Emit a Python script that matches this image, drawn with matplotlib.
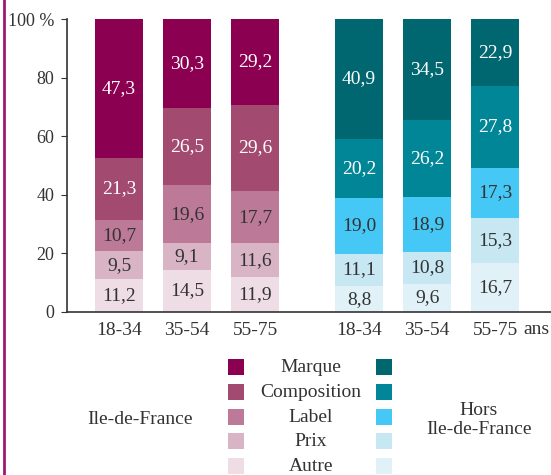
import numpy as np
import matplotlib.pyplot as plt
from matplotlib.patches import Rectangle

plt.rcParams['font.family'] = ['Liberation Serif', 'DejaVu Serif']

# data
ages = ['18-34', '35-54', '55-75']
categories = ['Autre', 'Prix', 'Label', 'Composition', 'Marque']
idf = {
    'Autre':       [11.2, 14.5, 11.9],
    'Prix':        [9.5, 9.1, 11.6],
    'Label':       [10.7, 19.6, 17.7],
    'Composition': [21.3, 26.5, 29.6],
    'Marque':      [47.3, 30.3, 29.2],
}
hors = {
    'Autre':       [8.8, 9.6, 16.7],
    'Prix':        [11.1, 10.8, 15.3],
    'Label':       [19.0, 18.9, 17.3],
    'Composition': [20.2, 26.2, 27.8],
    'Marque':      [40.9, 34.5, 22.9],
}
yticks = [0, 20, 40, 60, 80, 100]
ytick_labels = ['0', '20', '40', '60', '80', '100 %']

col_idf = {'Marque': '#8B0050', 'Composition': '#A34A70', 'Label': '#BC7A98',
           'Prix': '#D8B4C5', 'Autre': '#EEDDE4'}
col_hors = {'Marque': '#006670', 'Composition': '#008696', 'Label': '#45C8F5',
            'Prix': '#C7E7F2', 'Autre': '#E1F1F8'}
white_txt = ['Marque', 'Composition']
txt_dark = '#333333'
fs = 14

fig = plt.figure(figsize=(5.51, 4.75), dpi=100)
ax = fig.add_axes([67/551, 163/475, 1 - 67/551, 293/475])

x_idf = np.arange(3)
x_hors = np.arange(3) + 3.53
w = 0.706

def stack(xs, data, cols):
    bottom = np.zeros(3)
    for c in categories:
        vals = np.array(data[c])
        ax.bar(xs, vals, w, bottom=bottom, color=cols[c], linewidth=0)
        for xi, b, v in zip(xs, bottom, vals):
            ax.text(xi, b + v/2, f'{v:.1f}'.replace('.', ','), ha='center', va='center',
                    fontsize=fs, color='white' if c in white_txt else txt_dark)
        bottom += vals

stack(x_idf, idf, col_idf)
stack(x_hors, hors, col_hors)

ax.set_xlim(-0.765, 6.35)
ax.set_ylim(0, 100)
ax.set_yticks(yticks)
ax.set_yticklabels(ytick_labels)
ax.set_xticks(list(x_idf) + list(x_hors))
ax.set_xticklabels(ages * 2)
ax.tick_params(axis='x', length=0, pad=7, labelsize=fs, labelcolor=txt_dark)
ax.tick_params(axis='y', length=4, direction='out', pad=5, labelsize=13,
               labelcolor=txt_dark, color='#333333')
ax.spines['top'].set_visible(False)
ax.spines['right'].set_visible(False)
for s in ['left', 'bottom']:
    ax.spines[s].set_color('#333333')
    ax.spines[s].set_linewidth(1.2)
ax.text(6.13, -5.9, 'ans', ha='center', va='center', fontsize=fs, color=txt_dark)

# left border line
fig.add_artist(plt.Line2D([4/551, 4/551], [0, 1], color='#A0186E', linewidth=2))

# legend
W, H = 551, 475
legend_order = ['Marque', 'Composition', 'Label', 'Prix', 'Autre']
for i, c in enumerate(legend_order):
    yc = 367 + i*24.8
    for x0, cols in [(228, col_idf), (376, col_hors)]:
        fig.add_artist(Rectangle((x0/W, 1 - (yc + 8)/H), 16/W, 16/H,
                                 transform=fig.transFigure, color=cols[c], linewidth=0))
    fig.text(311/W, 1 - (yc + 0.5)/H, c, ha='center', va='center', fontsize=fs, color=txt_dark)
fig.text(140/W, 1 - 419/H, 'Ile-de-France', ha='center', va='center', fontsize=fs, color=txt_dark)
fig.text(479/W, 1 - 420/H, 'Hors\nIle-de-France', ha='center', va='center', fontsize=fs,
         color=txt_dark, linespacing=1.15)

fig.savefig('out.png', dpi=100)
